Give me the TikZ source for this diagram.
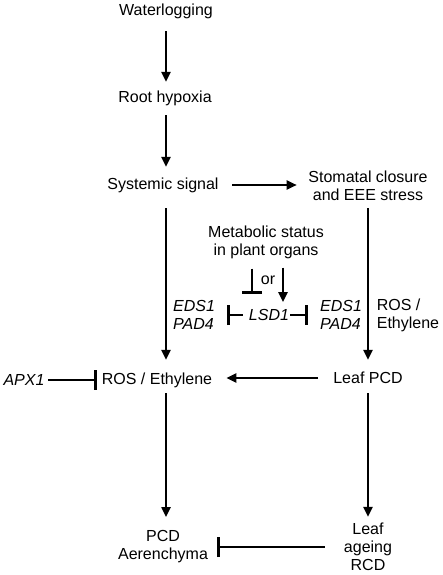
\documentclass[tikz,border=0pt]{standalone}
\usepackage{fontspec}
\setmainfont{Liberation Sans}
\usetikzlibrary{arrows.meta}
\tikzset{
	lbl/.style = {inner sep=0pt, align=center, font=\fontsize{16}{18}\selectfont},
	act/.style = {line width=2.2pt, -{Triangle[length=10pt,width=9pt]}},
	inh/.style = {line width=2.2pt, -{Bar[width=20pt,line width=3pt]}}
}

\begin{document}
\begin{tikzpicture}[x=1pt, y=-1pt]
			\useasboundingbox (0,0) rectangle (442,575);
			\node [lbl] (water) at (166,11) {Waterlogging};
			\node [lbl] (root) at (165,98) {Root hypoxia};
			\node [lbl] (sys) at (163,185) {Systemic signal};
			\node [lbl] (stom) at (368,186) {Stomatal closure\\and EEE stress};
			\node [lbl] (meta) at (266,242) {Metabolic status\\in plant organs};
			\node [lbl] (or) at (268,280) {or};
			\node [lbl, align=left] (edsL) at (194,315) {\textit{EDS1}\\\textit{PAD4}};
			\node [lbl] (lsd) at (269,315) {\textit{LSD1}};
			\node [lbl, align=left] (edsR) at (341,315) {\textit{EDS1}\\\textit{PAD4}};
			\node [lbl, align=left] (rosR) at (408,315) {ROS /\\Ethylene};
			\node [lbl] (apx) at (24,380) {\textit{APX1}};
			\node [lbl] (ros) at (157,380) {ROS / Ethylene};
			\node [lbl] (leaf) at (368,378) {Leaf PCD};
			\node [lbl] (pcd) at (163,547) {PCD\\Aerenchyma};
			\node [lbl] (age) at (368,547) {Leaf\\ageing\\RCD};

			\draw [act, shorten <=12.5pt, shorten >=8.5pt] (water) to (root.north -| water);
			\draw [act, shorten <=9.5pt, shorten >=10.5pt] (root.south -| water) to (sys.north -| water);
			\draw [act, shorten <=13.5pt, shorten >=11.5pt] (sys.east) to (sys.east -| stom.west);
			\draw [act, shorten <=15.5pt, shorten >=12.5pt] (sys.south -| water) to (ros.north -| water);
			\draw [act, shorten <=7pt, shorten >=12pt] (stom) to (leaf);
			\draw [inh, shorten <=10pt, shorten >=15pt] ([xshift=-14pt]meta.south) to ([xshift=-17pt]lsd.north);
			\draw [act, shorten <=9pt, shorten >=7pt] ([xshift=17pt]meta.south) to ([xshift=14pt]lsd.north);
			\draw [inh, shorten <=6pt, shorten >=12pt] (lsd.west) to (edsL.east);
			\draw [inh, shorten <=1pt, shorten >=12pt] (lsd.east) to (edsR.west);
			\draw [act, shorten <=15pt, shorten >=14pt] (leaf.west) to (leaf.west -| ros.east);
			\draw [inh, shorten <=3.5pt, shorten >=5pt] (apx.east) to (ros.west);
			\draw [act, shorten <=5.5pt, shorten >=13.5pt] (ros.south -| water) to (pcd.north -| water);
			\draw [act, shorten <=9pt, shorten >=6pt] (leaf) to (age);
			\draw [inh, shorten <=19pt, shorten >=9pt] (age.west) to (age.west -| pcd.east);
		\end{tikzpicture}
\end{document}
